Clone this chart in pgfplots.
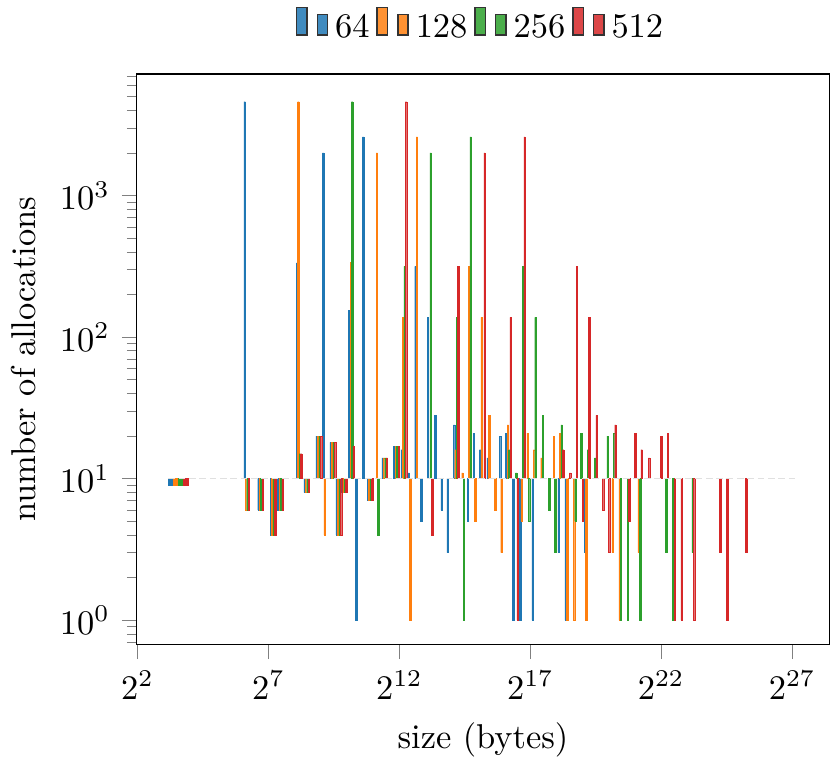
\documentclass[border=0pt]{standalone}
\usepackage{pgfplots}
\pgfplotsset{compat=1.18}

\definecolor{c64}{RGB}{31,119,180}
\definecolor{c128}{RGB}{255,127,14}
\definecolor{c256}{RGB}{44,160,44}
\definecolor{c512}{RGB}{214,39,40}

% size (bytes) vs number of allocations, one table per run
\pgfplotstableread{
x y
72 4600
104 6
144 4
176 6
288 334
352 8
485 20
576 2000
703 18
825 4
942 8
1152 155
1385 1
1660 2600
1881 7
2778 14
3803 17
4608 16
5540 11
6640 316
7770 5
9216 138
11215 28
13266 6
15557 3
18432 24
26560 5
31080 21
36864 16
44860 14
62228 20
73728 21
88640 1
106240 1
147456 1
294912 3
354560 1
589824 3
}\runA
\pgfplotstableread{
x y
72 6
104 6
144 4
176 6
288 4600
352 8
485 20
576 4
703 18
825 4
942 8
1152 336
1881 7
2304 2000
2778 14
3803 17
4608 138
5540 1
6640 2600
18432 16
22160 11
26560 316
31080 5
36864 138
44860 28
53064 6
62228 3
73728 24
106240 5
124320 21
147456 16
179440 14
248912 20
294912 21
354560 1
424960 1
589824 1
1179648 3
1418240 1
2359296 3
}\runB
\pgfplotstableread{
x y
72 6
104 6
144 4
176 6
288 15
352 8
485 20
703 18
825 4
942 8
1152 4600
1881 7
2304 4
2778 14
3803 17
4608 316
9216 2000
18432 138
22160 1
26560 2600
73728 16
88640 11
106240 316
124320 5
147456 138
179440 28
212256 6
248912 3
294912 24
424960 5
497280 21
589824 16
717760 14
995648 20
1179648 21
1418240 1
1699840 1
2359296 1
4718592 3
5672960 1
9437184 3
}\runC
\pgfplotstableread{
x y
72 6
104 6
144 4
176 6
288 15
352 8
485 20
703 18
825 4
942 8
1152 17
1881 7
2778 14
3803 17
4608 4600
9216 4
18432 316
36864 2000
73728 138
88640 1
106240 2600
294912 16
354560 11
424960 316
497280 5
589824 138
717760 28
849024 6
995648 3
1179648 24
1699840 5
1989120 21
2359296 16
2871040 14
3982592 20
4718592 21
5672960 1
6799360 1
9437184 1
18874368 3
22691840 1
37748736 3
}\runD

\begin{document}
\begin{tikzpicture}
\begin{axis}[
    scale only axis,
    width=201pt,
    height=165.5pt,
    xmode=log,
    log basis x=2,
    xmin=3.9, xmax=3.6e8,
    xtick={4,128,4096,131072,4194304,134217728},
    xminorticks=false,
    ymin=-1.1715, ymax=2.858,
    ytick={-1,0,1,2},
    yticklabels={$10^{0}$,$10^{1}$,$10^{2}$,$10^{3}$},
    minor ytick={-1.1549,-1.0969,-1.0458,
      -0.69897,-0.52288,-0.39794,-0.30103,-0.22185,-0.15490,-0.09691,-0.04576,
      0.30103,0.47712,0.60206,0.69897,0.77815,0.84510,0.90309,0.95424,
      1.30103,1.47712,1.60206,1.69897,1.77815,1.84510,1.90309,1.95424,
      2.30103,2.47712,2.60206,2.69897,2.77815,2.84510},
    y filter/.expression={log10(y)-1},
    tick align=outside,
    xtick pos=left,
    ytick pos=left,
    xlabel={size (bytes)},
    ylabel={number of allocations},
    ybar,
    bar width=0.42pt,
    legend columns=-1,
    legend style={at={(0.5,1.03)}, anchor=south, draw=none, fill=none},
    legend image code/.code={%
      \draw[#1,draw=black!80,fill opacity=0.85,line width=0.4pt,/tikz/.cd,bar width=3pt,yshift=-0.2em,bar shift=0pt]
        plot coordinates {(0cm,0.8em) (2*\pgfplotbarwidth,0.6em)};},
]
\addplot[fill=c64, draw=c64, line width=0.1pt, bar shift=-0.63pt] table {\runA};
\addplot[fill=c128, draw=c128, line width=0.1pt, bar shift=-0.21pt] table {\runB};
\addplot[fill=c256, draw=c256, line width=0.1pt, bar shift=0.21pt] table {\runC};
\addplot[fill=c512, draw=c512, line width=0.1pt, bar shift=0.63pt] table {\runD};
\legend{64,128,256,512}

% smallest size class, drawn wider
\addplot[forget plot, fill=c64, draw=c64, line width=0.1pt, bar width=1.5pt, bar shift=-2.25pt] coordinates {(11.7,9)};
\addplot[forget plot, fill=c128, draw=c128, line width=0.1pt, bar width=1.5pt, bar shift=-0.75pt] coordinates {(11.7,9)};
\addplot[forget plot, fill=c256, draw=c256, line width=0.1pt, bar width=1.5pt, bar shift=0.75pt] coordinates {(11.7,9)};
\addplot[forget plot, fill=c512, draw=c512, line width=0.1pt, bar width=1.5pt, bar shift=2.25pt] coordinates {(11.7,9)};

% empty size classes along the base line
\addplot[forget plot, sharp plot, draw=black!12, line width=0.4pt, dash pattern=on 2pt off 1pt] coordinates {(9,10) (1.5e8,10)};
\end{axis}
\end{tikzpicture}
\end{document}
